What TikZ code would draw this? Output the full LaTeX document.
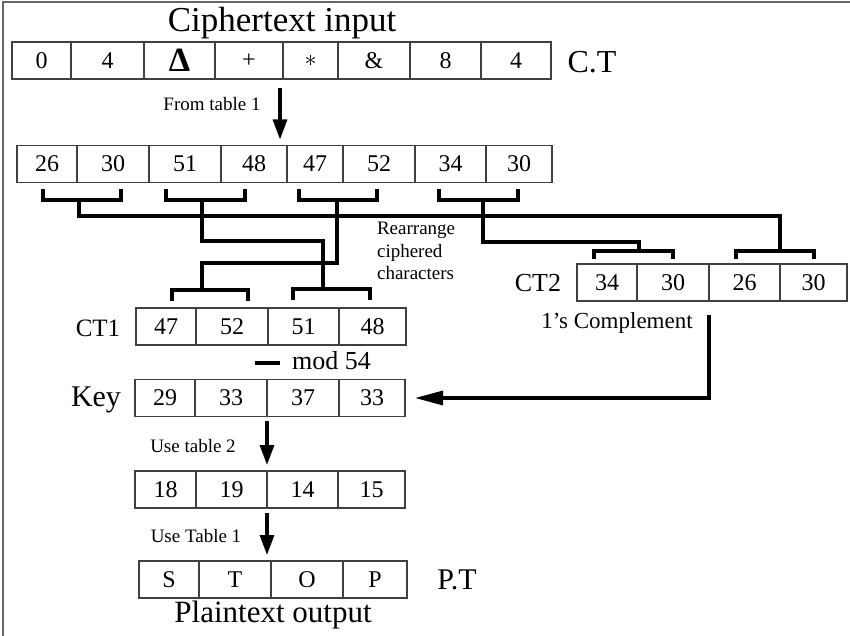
\documentclass[tikz,border=0pt]{standalone}
\usepackage{fontspec}
\setmainfont{Liberation Serif}
\usepackage{tikz}
\usetikzlibrary{arrows.meta, positioning}

\begin{document}
\begin{tikzpicture}[x=0.5pt, y=-0.5pt,
    cell/.style={draw=black!75, line width=0.6pt, minimum width=#1,
                 minimum height=18.5pt, inner sep=0pt, outer sep=0pt,
                 font=\fontsize{12}{14}\selectfont},
    caption/.style={font=\fontsize{#1}{#1}\selectfont},
    note/.style={font=\fontsize{9.5}{11.25}\selectfont},
    bracket/.style={line width=2pt},
    flow/.style={line width=1.6pt, -{Triangle[width=7pt,length=10pt]}}
]
    \useasboundingbox (0,0) rectangle (850,636);
    \draw[black!60, line width=0.6pt] (3,636) -- (3,2) -- (850,2);

    % ciphertext
    \node[caption=17.5] (title) at (282,23) {Ciphertext input};
    \node[cell=29.5pt, anchor=west] (in1) at (12,60.5) {0};
    \node[cell=36.5pt, right=0pt of in1] (in2) {4};
    \node[cell=35.5pt, right=0pt of in2] (in3) {\fontsize{17}{17}\selectfont\bfseries Δ};
    \node[cell=34pt, right=0pt of in3] (in4) {+};
    \node[cell=27.5pt, right=0pt of in4] (in5) {$\ast$};
    \node[cell=36pt, right=0pt of in5] (in6) {\&};
    \node[cell=35.5pt, right=0pt of in6] (in7) {8};
    \node[cell=35pt, right=0pt of in7] (in8) {4};
    \node[caption=16] (ctlabel) at (592,62) {C.T};

    % numbers from table 1
    \node[cell=30pt, anchor=west] (nb1) at (17,164) {26};
    \node[cell=36pt, right=0pt of nb1] (nb2) {30};
    \node[cell=36pt, right=0pt of nb2] (nb3) {51};
    \node[cell=33pt, right=0pt of nb3] (nb4) {48};
    \node[cell=28pt, right=0pt of nb4] (nb5) {47};
    \node[cell=36pt, right=0pt of nb5] (nb6) {52};
    \node[cell=35.5pt, right=0pt of nb6] (nb7) {34};
    \node[cell=33pt, right=0pt of nb7] (nb8) {30};

    \node[note] (fromtab) at (212,104) {From table 1};
    \coordinate (a1) at ([xshift=-1.5pt,yshift=-4.5pt]in4.south east);
    \draw[flow, shorten >=3pt] (a1) -- (a1 |- nb4.north);

    % CT1 and CT2
    \node[caption=12.5] (ct1label) at (98,328) {CT1};
    \node[cell=30pt, anchor=west] (ca1) at (136,326.5) {47};
    \node[cell=36pt, right=0pt of ca1] (ca2) {52};
    \node[cell=35.5pt, right=0pt of ca2] (ca3) {51};
    \node[cell=33.5pt, right=0pt of ca3] (ca4) {48};

    \node[caption=13] (ct2label) at (538,283) {CT2};
    \node[cell=30pt, anchor=west] (cb1) at (577,282.5) {34};
    \node[cell=36pt, right=0pt of cb1] (cb2) {30};
    \node[cell=35.5pt, right=0pt of cb2] (cb3) {26};
    \node[cell=33.5pt, right=0pt of cb3] (cb4) {30};
    \node[caption=11.5] (compl) at (617,323) {1's Complement};

    % pairs and where they go
    \coordinate (u1) at (79,200);
    \coordinate (u2) at (202,200);
    \coordinate (u3) at (337,200);
    \coordinate (u4) at (483,200);
    \coordinate (v1) at (202,290);
    \coordinate (v2) at (323,289);
    \coordinate (v3) at (639,251);
    \coordinate (v4) at (780,251);

    \draw[bracket] (u1) ++(-36,-11) |- ++(78,11) -- ++(0,-11);
    \draw[bracket] (u2) ++(-36,-11) |- ++(79,11) -- ++(0,-11);
    \draw[bracket] (u3) ++(-38,-11) |- ++(78,11) -- ++(0,-11);
    \draw[bracket] (u4) ++(-44,-11) |- ++(79,11) -- ++(0,-11);
    \draw[bracket] (v1) ++(-30,11) |- ++(76,-11) -- ++(0,11);
    \draw[bracket] (v2) ++(-30,11) |- ++(77,-11) -- ++(0,11);
    \draw[bracket] (v3) ++(-45,8) |- ++(79,-8) -- ++(0,8);
    \draw[bracket] (v4) ++(-44,8) |- ++(78,-8) -- ++(0,8);

    \draw[bracket] (u1) -- ++(0,16) -| (v4);
    \draw[bracket] (u2) -- ++(0,41) -| (v2);
    \draw[bracket] (u3) -- ++(0,63) -| (v1);
    \draw[bracket] (u4) -- ++(0,42) -| (v3);

    \node[note, anchor=west, align=left] (rearr) at (370,251)
        {Rearrange\\ciphered\\characters};

    % key
    \node[caption=13] (mod) at (313,361) {\rule[2.5pt]{12.5pt}{2pt}\hspace{6pt}mod 54};
    \node[caption=15] (keylabel) at (96,400) {Key};
    \node[cell=30pt, anchor=west] (k1) at (135,398) {29};
    \node[cell=36pt, right=0pt of k1] (k2) {33};
    \node[cell=36pt, right=0pt of k2] (k3) {37};
    \node[cell=33pt, right=0pt of k3] (k4) {33};
    \draw[flow, -{Triangle[width=7pt,length=14pt]}, shorten >=5pt]
        ([yshift=-7pt]cb3.south west) |- (k4.east);

    % decoding
    \node[note] (use2) at (193,446) {Use table 2};
    \node[cell=30.5pt, anchor=west] (d1) at (135,489.5) {18};
    \node[cell=35.5pt, right=0pt of d1] (d2) {19};
    \node[cell=35.5pt, right=0pt of d2] (d3) {14};
    \node[cell=33.5pt, right=0pt of d3] (d4) {15};
    \draw[flow, shorten >=3pt] ([yshift=-2pt]k3.south west) -- (k3.south west |- d3.north);

    \node[note] (use1) at (196,536) {Use Table 1};
    \node[cell=30pt, anchor=west] (out1) at (139,579.5) {S};
    \node[cell=36pt, right=0pt of out1] (out2) {T};
    \node[cell=36pt, right=0pt of out2] (out3) {O};
    \node[cell=32pt, right=0pt of out3] (out4) {P};
    \draw[flow, shorten >=3pt] ([yshift=-2.5pt]d3.south west) -- (d3.south west |- out3.north);
    \node[caption=15] (ptlabel) at (457,580) {P.T};
    \node[caption=15.5] (plain) at (273,615) {Plaintext output};
\end{tikzpicture}
\end{document}
